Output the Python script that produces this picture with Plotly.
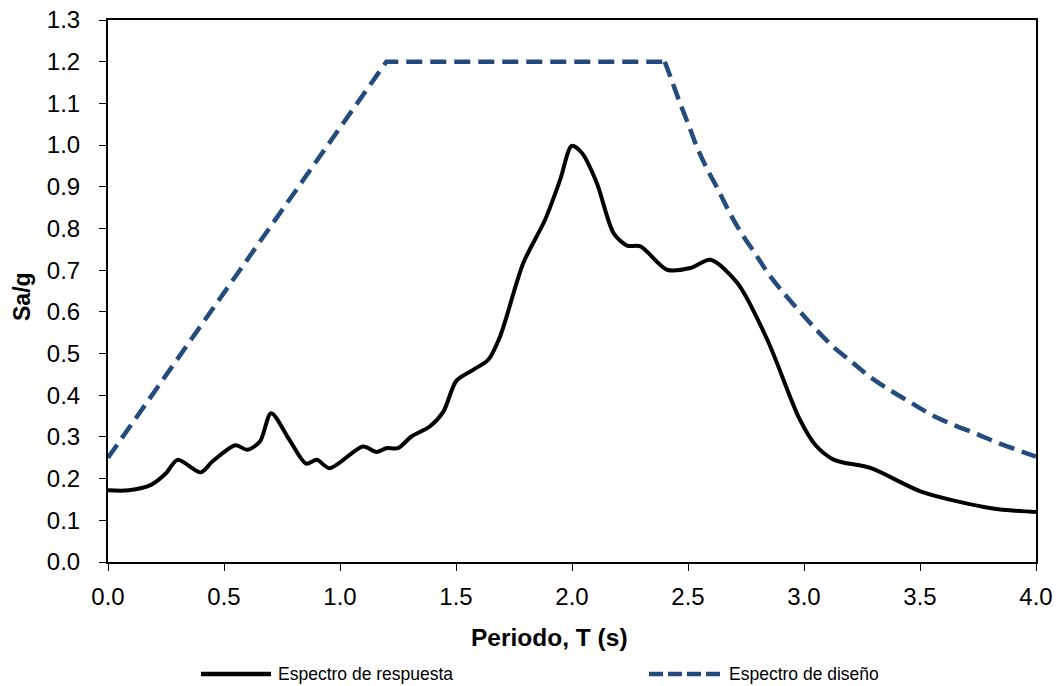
import plotly.graph_objects as go

# Response spectrum
t_resp = [0.0, 0.09, 0.185, 0.25, 0.30, 0.40, 0.45, 0.55, 0.60, 0.655, 0.703, 0.782, 0.854, 0.90, 0.955,
          1.099, 1.157, 1.20, 1.25, 1.308, 1.387, 1.445, 1.502, 1.574, 1.639, 1.69, 1.79, 1.884, 1.949, 1.999,
          2.043, 2.107, 2.179, 2.237, 2.295, 2.41, 2.51, 2.597, 2.713, 2.842, 2.979, 3.05, 3.13, 3.289, 3.505,
          3.807, 4.0]
sa_resp = [0.172, 0.172, 0.185, 0.213, 0.245, 0.215, 0.241, 0.28, 0.269, 0.289, 0.357, 0.293, 0.236, 0.245, 0.225,
           0.277, 0.264, 0.273, 0.273, 0.301, 0.325, 0.36, 0.435, 0.461, 0.485, 0.541, 0.717, 0.821, 0.917, 0.998,
           0.981, 0.909, 0.789, 0.759, 0.757, 0.701, 0.705, 0.725, 0.669, 0.533, 0.345, 0.28, 0.245, 0.225, 0.169,
           0.129, 0.12]

# Design spectrum: plateau part and descending branch
t_dis_plateau = [0.0, 1.2, 2.4]
sa_dis_plateau = [0.25, 1.2, 1.2]
t_dis_decay = [2.4, 2.43, 2.466, 2.50, 2.538, 2.581, 2.631, 2.681, 2.731, 2.789, 2.846, 2.911, 2.983,
               3.055, 3.126, 3.206, 3.284, 3.371, 3.464, 3.55, 3.644, 3.744, 3.838, 3.938, 4.0]
sa_dis_decay = [1.2, 1.155, 1.10, 1.052, 0.996, 0.944, 0.892, 0.836, 0.788, 0.740, 0.692, 0.646, 0.600,
                0.556, 0.516, 0.480, 0.444, 0.412, 0.381, 0.353, 0.329, 0.307, 0.285, 0.265, 0.253]

x_ticks = [0.0, 0.5, 1.0, 1.5, 2.0, 2.5, 3.0, 3.5, 4.0]
y_ticks = [round(0.1 * i, 1) for i in range(14)]

FONT = "Liberation Sans, Arial, sans-serif"
BLUE = "#234B7E"
DASH = "16px,8px"

fig = go.Figure()
fig.add_trace(go.Scatter(x=t_resp, y=sa_resp, mode="lines", name="Espectro de respuesta",
                         line=dict(color="black", width=4, shape="spline", smoothing=0.8)))
fig.add_trace(go.Scatter(x=t_dis_plateau, y=sa_dis_plateau, mode="lines", name="Espectro de diseño",
                         line=dict(color=BLUE, width=4.5, dash=DASH)))
fig.add_trace(go.Scatter(x=t_dis_decay, y=sa_dis_decay, mode="lines", name="Espectro de diseño",
                         line=dict(color=BLUE, width=4.5, dash=DASH, shape="spline", smoothing=0.8)))

axis_common = dict(showline=True, linecolor="black", linewidth=2, mirror=True, ticks="outside",
                   ticklen=7, tickwidth=1, tickcolor="black", showgrid=False, zeroline=False,
                   automargin=False, tickfont=dict(family=FONT, size=24, color="black"))

fig.update_xaxes(range=[0, 4.0], tickvals=x_ticks, ticktext=[f"{v:.1f}" for v in x_ticks],
                 ticklabelstandoff=5, **axis_common)
fig.update_yaxes(range=[0, 1.3], tickvals=y_ticks, ticktext=[f"{v:.1f}" for v in y_ticks],
                 ticklabelstandoff=14, **axis_common)

L, R, T, B = 108, 26, 20, 124
PW = 1062 - L - R
PH = 686 - T - B


def px_x(px):
    return (px - L) / PW


annotations = [
    dict(text="<b>Periodo, T (s)</b>", x=px_x(549), y=0, xref="paper", yref="paper",
         xanchor="center", yanchor="middle", yshift=-75, showarrow=False,
         font=dict(family=FONT, size=24.5, color="black")),
    dict(text="<b>Sa/g</b>", x=0, y=(686 - B - 297) / PH, xref="paper", yref="paper",
         xanchor="center", yanchor="middle", xshift=-(L - 22), textangle=-90, showarrow=False,
         font=dict(family=FONT, size=23, color="black")),
    dict(text="Espectro de respuesta", x=px_x(276), y=0, xref="paper", yref="paper",
         xanchor="left", yanchor="middle", yshift=-112, showarrow=False,
         font=dict(family=FONT, size=17.5, color="black")),
    dict(text="Espectro de diseño", x=px_x(727), y=0, xref="paper", yref="paper",
         xanchor="left", yanchor="middle", yshift=-112, showarrow=False,
         font=dict(family=FONT, size=17.5, color="black")),
]

leg_y = (686 - B - 674) / PH
shapes = [
    dict(type="line", xref="paper", yref="paper", x0=px_x(201), x1=px_x(271), y0=leg_y, y1=leg_y,
         line=dict(color="black", width=4.5)),
    dict(type="line", xref="paper", yref="paper", x0=px_x(649), x1=px_x(723), y0=leg_y, y1=leg_y,
         line=dict(color=BLUE, width=4.5, dash="14px,5px")),
]

fig.update_layout(
    width=1062, height=686,
    margin=dict(l=L, r=R, t=T, b=B, autoexpand=False),
    plot_bgcolor="white", paper_bgcolor="white",
    showlegend=False,
    annotations=annotations,
    shapes=shapes,
)

fig.write_html("out.html", config={"displayModeBar": False},
               post_script="document.body.style.margin='0';document.body.style.overflow='hidden';")
